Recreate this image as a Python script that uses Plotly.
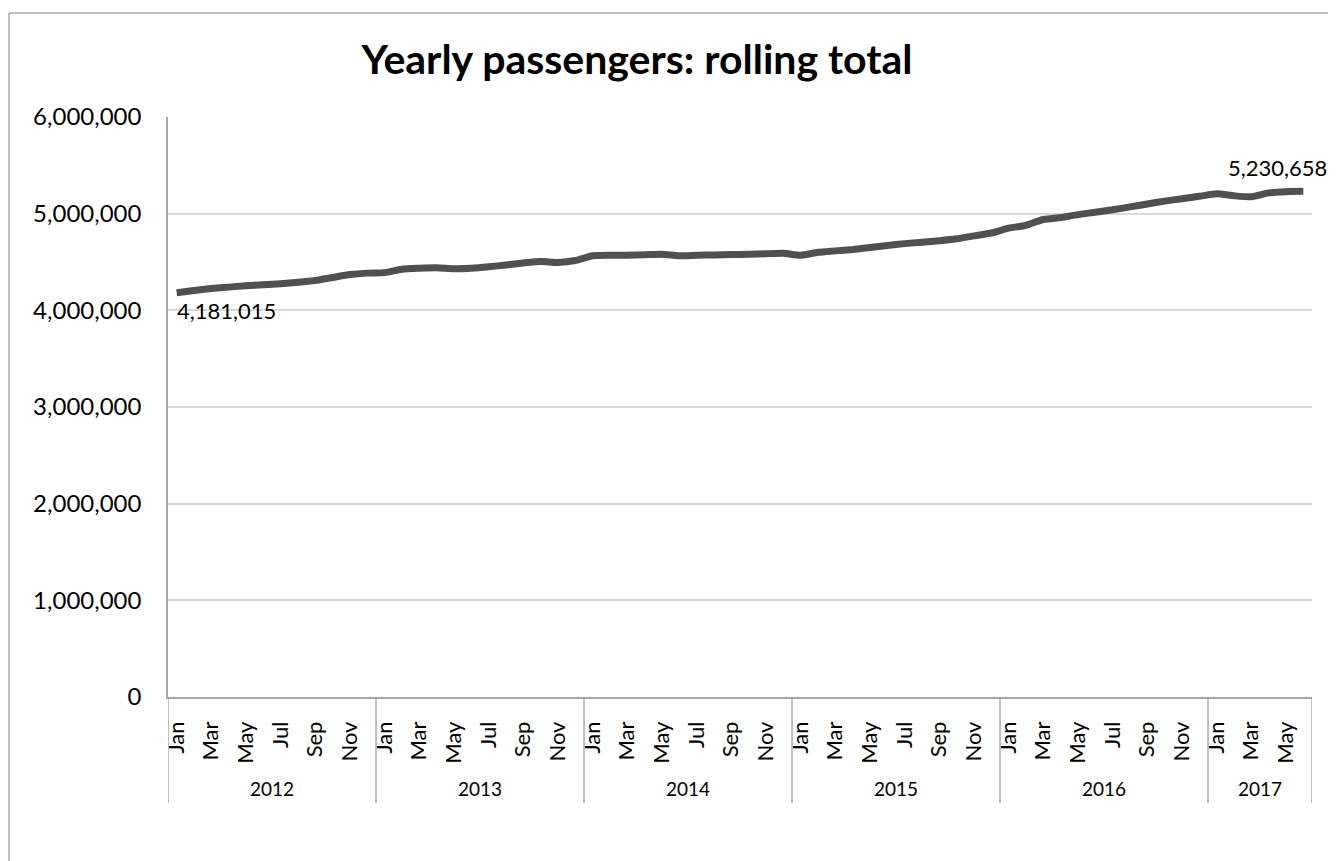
import plotly.graph_objects as go

# ---- data ----
years = ["2012", "2013", "2014", "2015", "2016", "2017"]
months_per_year = [12, 12, 12, 12, 12, 6]
month_names = ["Jan", "Feb", "Mar", "Apr", "May", "Jun",
               "Jul", "Aug", "Sep", "Oct", "Nov", "Dec"]
passengers = [
    # 2012
    4181015, 4205000, 4225000, 4240000, 4255000, 4265000,
    4275000, 4290000, 4310000, 4340000, 4370000, 4385000,
    # 2013
    4390000, 4425000, 4435000, 4440000, 4430000, 4435000,
    4450000, 4470000, 4490000, 4505000, 4495000, 4515000,
    # 2014
    4565000, 4570000, 4570000, 4575000, 4580000, 4565000,
    4570000, 4573000, 4577000, 4580000, 4585000, 4590000,
    # 2015
    4570000, 4600000, 4615000, 4630000, 4650000, 4670000,
    4690000, 4705000, 4720000, 4740000, 4770000, 4800000,
    # 2016
    4850000, 4880000, 4940000, 4960000, 4990000, 5015000,
    5040000, 5070000, 5100000, 5130000, 5155000, 5180000,
    # 2017
    5205000, 5185000, 5175000, 5215000, 5228000, 5230658,
]
title_text = "Yearly passengers: rolling total"
y_ticks = [0, 1000000, 2000000, 3000000, 4000000, 5000000, 6000000]

# ---- derived category structure ----
month_labels = []
for n in months_per_year:
    month_labels += month_names[:n]
idx = list(range(len(passengers)))

FONT = "Lato"
AXIS_GREY = "#a6aaae"
GRID_GREY = "#d9d9d9"
LINE_COL = "#505050"

# page offset (browser body margin)
OFF = 8
FIG_W, FIG_H = 1336 - OFF, 861 - OFF
PL, PT, PW, PH = 168, 117, 1144, 580   # plot area in page pixels


def px_x(p):
    return (p - PL) / PW


def px_y(p):
    return (PT + PH - p) / PH


fig = go.Figure()
fig.add_trace(go.Scatter(
    x=idx, y=passengers, mode="lines",
    line=dict(color=LINE_COL, width=7, shape="spline", smoothing=0.6),
    hoverinfo="skip", showlegend=False,
))

# first / last value labels
fig.add_annotation(x=idx[0], y=passengers[0], text=f"{passengers[0]:,}",
                   showarrow=False, xanchor="left", yanchor="top",
                   xshift=-2, yshift=-2, font=dict(family=FONT, size=22, color="#000"))
fig.add_annotation(x=idx[-1], y=passengers[-1], text=f"{passengers[-1]:,}",
                   showarrow=False, xanchor="right", yanchor="bottom",
                   xshift=26, yshift=8, font=dict(family=FONT, size=22, color="#000"))

shapes = []
start = 0
bounds = [-0.5]
for yr, n in zip(years, months_per_year):
    center = start + (n - 1) / 2
    fig.add_annotation(x=center, y=px_y(788), xref="x", yref="paper", text=yr,
                       showarrow=False, yanchor="middle",
                       font=dict(family=FONT, size=19, color="#000"))
    start += n
    bounds.append(start - 0.5)
for b in bounds:
    shapes.append(dict(type="line", xref="x", yref="paper", x0=b, x1=b,
                       y0=0, y1=px_y(803), line=dict(color=AXIS_GREY, width=1.5)))

# outer chart frame (top and left edges visible)
shapes.append(dict(type="line", xref="paper", yref="paper",
                   x0=px_x(9), x1=px_x(1400), y0=px_y(13), y1=px_y(13),
                   line=dict(color=AXIS_GREY, width=1.5)))
shapes.append(dict(type="line", xref="paper", yref="paper",
                   x0=px_x(9), x1=px_x(9), y0=px_y(13), y1=px_y(900),
                   line=dict(color=AXIS_GREY, width=1.5)))

fig.update_layout(
    width=FIG_W, height=FIG_H,
    margin=dict(l=PL - OFF, r=FIG_W - (PL - OFF) - PW, t=PT - OFF,
                b=FIG_H - (PT - OFF) - PH),
    paper_bgcolor="white", plot_bgcolor="white",
    font=dict(family=FONT, color="#000"),
    title=dict(text=f"<b>{title_text}</b>", x=(637 - OFF) / FIG_W,
               xanchor="center", y=1 - (60 - OFF) / FIG_H, yanchor="middle",
               font=dict(family=FONT, size=41, color="#000")),
    shapes=shapes,
)
fig.update_xaxes(
    range=[-0.5, len(passengers) - 0.5],
    tickmode="array", tickvals=idx[::2], ticktext=month_labels[::2],
    tickangle=-90, ticks="outside", ticklen=0, ticklabelstandoff=14,
    tickfont=dict(family=FONT, size=22, color="#000"),
    showgrid=False, zeroline=False,
    showline=True, linecolor=AXIS_GREY, linewidth=1.5,
)
fig.update_yaxes(
    range=[0, 6000000], tickmode="array", tickvals=y_ticks,
    tickformat=",", ticks="outside", ticklen=0, ticklabelstandoff=20,
    tickfont=dict(family=FONT, size=24, color="#000"),
    showgrid=True, gridcolor=GRID_GREY, gridwidth=1.5, zeroline=False,
    showline=True, linecolor=AXIS_GREY, linewidth=1.5,
)

fig.write_html("out.html")
